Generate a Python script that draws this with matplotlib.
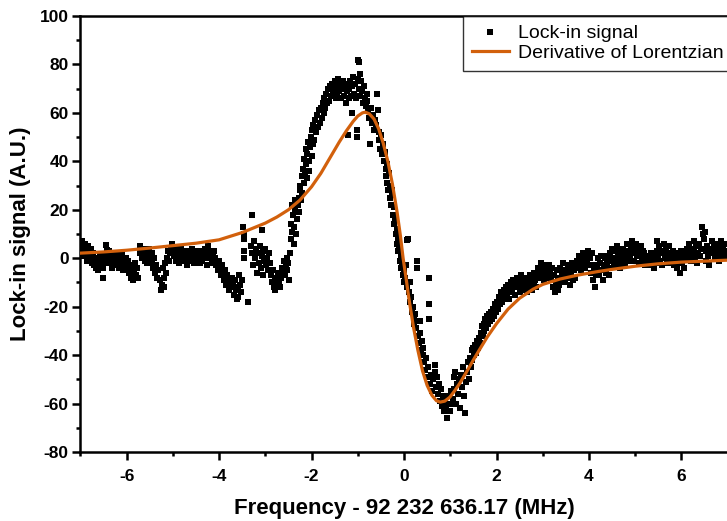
import matplotlib
matplotlib.use("Agg")
import matplotlib.pyplot as plt
from matplotlib.ticker import MultipleLocator

plt.rcParams['font.family'] = ['Liberation Sans', 'DejaVu Sans']
plt.rcParams['axes.unicode_minus'] = False

# ---- Lock-in signal ----
sig_points = [
    (-7.00,6),(-6.98,3),(-6.96,7),(-6.94,5),(-6.92,1),(-6.90,6),(-6.88,3),(-6.86,-1),(-6.84,5),(-6.82,2),(-6.80,0),(-6.78,4),
    (-6.76,1),(-6.74,-2),(-6.72,2),(-6.70,-3),(-6.68,0),(-6.66,-4),(-6.64,-1),(-6.62,-5),(-6.60,-2),(-6.58,1),(-6.56,-3),(-6.54,-1),(-6.52,-4),(-6.50,-8),
    (-6.48,-2),(-6.46,1),(-6.44,5.5),(-6.42,3.5),(-6.40,0),(-6.38,3),(-6.36,-2),(-6.34,1),(-6.32,-4),(-6.30,2),(-6.28,-1),(-6.26,0),(-6.24,-3),(-6.22,2),(-6.20,-2),(-6.18,1),(-6.16,-4),(-6.14,0),(-6.12,-2),(-6.10,2),(-6.08,-5),(-6.06,-1),(-6.04,-3),
    (-6.02,0),(-6.00,-2),(-5.98,-5),(-5.96,-1),(-5.94,-6),(-5.92,-3),(-5.90,-8),(-5.88,-4),(-5.86,-9),(-5.84,-6),(-5.82,-2),(-5.80,-7),(-5.78,-4),(-5.76,-8),
    (-5.72,2),(-5.70,5),(-5.68,3),(-5.66,0),(-5.64,4),(-5.62,1),(-5.60,-1),(-5.58,3),(-5.56,-2),(-5.54,1),(-5.52,4),(-5.50,0),(-5.48,-1),(-5.46,2),(-5.44,-2),
    (-5.42,-4),(-5.40,0),(-5.38,-6),(-5.36,-3),(-5.34,-8),(-5.32,-5),
    (-5.28,-9),(-5.26,-13),(-5.24,-11),(-5.22,-4),(-5.20,-12),(-5.18,-8),(-5.16,-2),(-5.14,-6),
    (-5.12,0),(-5.10,3),(-5.08,-1),(-5.06,2),(-5.04,4),(-5.02,6),(-5.00,3),(-4.98,1),(-4.96,4),(-4.94,-1),(-4.92,2),(-4.90,0),(-4.88,3),(-4.86,-2),(-4.84,1),(-4.82,4),(-4.80,2),(-4.78,-1),(-4.76,3),(-4.74,0),(-4.72,2),(-4.70,-3),(-4.68,1),(-4.66,3),(-4.64,-1),(-4.62,2),(-4.60,0),(-4.58,4),(-4.56,1),(-4.54,-2),(-4.52,2),(-4.50,0),(-4.48,3),(-4.46,-1),
    (-4.44,2),(-4.42,-2),(-4.40,1),(-4.38,3),(-4.36,-1),(-4.34,2),(-4.32,0),(-4.30,4),(-4.28,1),(-4.26,-3),(-4.24,5),(-4.22,2),(-4.20,0),(-4.18,3),(-4.16,-2),(-4.14,1),(-4.12,-1),(-4.10,3),(-4.08,0),(-4.06,-3),
    (-4.04,-2),(-4.02,-5),(-4.00,-1),(-3.98,-4),(-3.96,-7),(-3.94,-3),(-3.92,-6),(-3.90,-9),(-3.88,-5),(-3.86,-8),(-3.84,-11),(-3.82,-7),(-3.80,-10),(-3.78,-13),(-3.76,-9),(-3.74,-12),(-3.72,-8),
    (-3.70,-11),(-3.68,-15),(-3.66,-9),(-3.64,-13),(-3.62,-17),(-3.60,-12),(-3.58,-16),(-3.56,-7),(-3.54,-11),(-3.52,-14),(-3.50,-9),
    (-3.48,13),(-3.47,10),(-3.46,8),(-3.46,3),(-3.45,0),(-3.37,-18),(-3.28,18),
    (-3.30,5),(-3.28,2),(-3.26,-3),(-3.24,7),(-3.22,0),(-3.20,4),(-3.18,-6),(-3.16,2),(-3.14,-2),(-3.12,5),(-3.10,-4),(-3.08,1),(-3.07,11.6),(-3.06,-7),(-3.04,3),
    (-3.02,-1),(-3.00,4),(-2.98,-3),(-2.96,0),(-2.94,-5),(-2.92,2),(-2.90,-2),
    (-2.88,-7),(-2.86,-10),(-2.84,-5),(-2.82,-12),(-2.80,-8),(-2.78,-13),(-2.76,-9),(-2.74,-11),(-2.72,-6),(-2.70,-10),(-2.68,-12),
    (-2.66,-8),(-2.64,-4),(-2.62,-6),(-2.60,-1),(-2.58,-7),(-2.56,-3),(-2.54,0),(-2.52,-5),(-2.50,-2),(-2.48,-9),(-2.46,2),
    (-2.45,8),(-2.44,14),(-2.43,11),(-2.42,22),(-2.40,18),(-2.39,6),(-2.38,13),(-2.36,24),(-2.35,20),(-2.34,10),(-2.32,16),(-2.30,22),(-2.28,25),(-2.27,19),(-2.26,28),
    (-2.24,30),(-2.22,24),(-2.21,34),(-2.20,27),(-2.18,37),(-2.17,31),(-2.16,41),(-2.14,35),(-2.13,45),(-2.12,39),(-2.10,33),(-2.09,43),(-2.08,48),(-2.06,40),(-2.05,36),(-2.04,46),(-2.02,50),(-2.00,42),(-1.98,53),(-1.97,47),
    (-1.96,55),(-1.94,49),(-1.92,57),(-1.90,52),(-1.88,59),(-1.86,54),(-1.84,61),(-1.82,56),(-1.80,62),(-1.78,58),(-1.76,64),
    (-1.74,60),(-1.72,66),(-1.70,62),(-1.68,68),(-1.66,64),(-1.64,70),(-1.62,65),(-1.60,71),(-1.58,67),(-1.56,72),(-1.54,68),
    (-1.52,70),(-1.50,73),(-1.48,66),(-1.46,71),(-1.44,68),(-1.42,74),(-1.40,69),(-1.38,72),(-1.36,66),(-1.34,70),(-1.32,73),(-1.30,67),(-1.28,71),(-1.26,64),(-1.24,69),(-1.22,72),(-1.21,51),(-1.20,66),(-1.18,70),
    (-1.16,73),(-1.14,67),(-1.13,60),(-1.12,71),(-1.10,75),(-1.08,68),(-1.06,72),(-1.04,66),(-1.02,53),(-1.01,50),(-1.00,74),(-0.99,82),(-0.97,81),(-0.98,70),(-0.96,76),(-0.95,67),(-0.93,73),(-0.91,69),(-0.89,64),(-0.87,71),(-0.85,66),(-0.83,63),(-0.81,68),
    (-0.79,65),(-0.77,61),(-0.75,58),(-0.73,47),(-0.71,62),(-0.69,56),(-0.67,59),(-0.65,53),(-0.63,57),(-0.60,55),(-0.58,68),(-0.56,61),(-0.55,52),
    (-0.54,49),(-0.52,45),(-0.50,51),(-0.48,43),(-0.46,47),(-0.44,40),(-0.42,44),(-0.40,37),
    (-0.39,34),(-0.37,39),(-0.36,31),(-0.34,28),(-0.33,35),(-0.31,25),(-0.30,30),(-0.28,22),(-0.27,26),(-0.25,28),(-0.24,18),
    (-0.22,21),(-0.21,14),(-0.19,16),(-0.18,10),(-0.16,12),(-0.15,6),(-0.13,8),(-0.12,3),(-0.10,5),(-0.09,-1),(-0.07,1),(-0.06,-4),(-0.04,-2),(-0.03,-7),(-0.01,-10),
    (0.00,-5),(0.02,-8),(0.04,-3),(0.06,7.5),(0.07,-12),(0.09,8),(0.10,-14),(0.12,-10),(0.13,-18),(0.15,-16),(0.17,-22),(0.19,-20),(0.21,-25),(0.22,-27),(0.24,-23),(0.26,-29),
    (0.28,-1),(0.29,-4),
    (0.30,-32),(0.32,-35),(0.34,-31),(0.35,-26),(0.36,-38),(0.38,-34),(0.40,-40),(0.42,-37),(0.44,-43),
    (0.46,-46),(0.48,-41),(0.50,-49),(0.52,-45),(0.54,-8),(0.54,-19),(0.55,-25),(0.56,-52),(0.58,-48),(0.60,-55),(0.62,-50),
    (0.66,-44),(0.68,-47),(0.70,-53),(0.72,-49),(0.74,-56),(0.76,-52),(0.78,-59),(0.80,-54),
    (0.82,-61),(0.84,-57),(0.86,-63),(0.88,-59),(0.90,-62),(0.93,-66),(0.95,-60),(0.97,-57),(0.99,-63),(1.01,-55),(1.03,-60),(1.05,-58),
    (1.07,-49),(1.09,-54),(1.11,-47),(1.13,-60),(1.15,-52),(1.17,-56),(1.19,-50),(1.21,-62),(1.23,-48),(1.25,-53),(1.27,-45),(1.29,-57),(1.32,-64),(1.34,-51),
    (1.36,-47),(1.38,-43),(1.40,-50),(1.42,-41),(1.44,-45),(1.46,-38),(1.48,-42),(1.50,-37),(1.52,-40),(1.54,-36),(1.56,-39),(1.58,-34),(1.60,-37),(1.62,-33),
    (1.64,-35),(1.66,-31),(1.68,-28),(1.70,-32),(1.72,-27),(1.74,-30),(1.76,-25),(1.78,-29),(1.80,-24),(1.82,-27),(1.84,-23),(1.86,-26),(1.88,-22),(1.90,-25),(1.92,-21),(1.94,-24),(1.96,-19),(1.98,-22),
    (2.00,-20),(2.02,-18),(2.04,-21),(2.06,-16),(2.08,-19),(2.10,-14),(2.12,-18),(2.14,-15),(2.16,-13),(2.18,-17),(2.20,-12),(2.22,-15),(2.24,-11),(2.26,-14),(2.28,-17),(2.30,-12),(2.32,-10),(2.34,-13),(2.36,-9),(2.38,-12),(2.40,-15),(2.42,-11),
    (2.44,-8),(2.46,-12),(2.48,-9),(2.50,-14),(2.52,-10),(2.54,-7),(2.56,-12),(2.58,-9),(2.60,-13),(2.62,-8),(2.64,-11),(2.66,-14),(2.68,-9),(2.70,-12),(2.72,-7),(2.74,-10),(2.76,-13),(2.78,-8),(2.80,-11),(2.82,-6),(2.84,-9),(2.86,-12),
    (2.88,-7),(2.90,-4),(2.92,-8),(2.94,-5),(2.96,-2),(2.98,-7),(3.00,-4),(3.02,-9),(3.04,-6),(3.06,-3),(3.08,-7),(3.10,-5),(3.12,-8),(3.14,-3),(3.16,-6),(3.18,-9),(3.20,-4),
    (3.22,-12),(3.24,-7),(3.26,-14),(3.28,-10),(3.30,-5),(3.32,-13),(3.34,-8),(3.36,-11),
    (3.38,-4),(3.40,-9),(3.42,-6),(3.44,-2),(3.46,-7),(3.48,-10),(3.50,-5),(3.52,-8),(3.54,-3),(3.56,-6),(3.58,-11),(3.60,-4),(3.62,-7),(3.64,-2),(3.66,-9),(3.68,-5),(3.70,-8),(3.72,-3),
    (3.74,-1),(3.76,-4),(3.78,1),(3.80,-2),(3.82,-5),(3.84,0),(3.86,-3),(3.88,2),(3.90,-1),(3.92,-4),(3.94,1),(3.96,-2),(3.98,3),(4.00,-3),(4.02,0),(4.04,-6),(4.06,2),(4.08,-9),(4.10,-5),(4.12,-12),(4.14,-3),(4.16,-7),
    (4.18,-4),(4.20,0),(4.22,-7),(4.24,-2),(4.26,1),(4.28,-5),(4.30,-9),(4.32,-3),(4.34,0),(4.36,-6),(4.38,-2),(4.40,1),(4.42,-4),(4.44,-7),
    (4.46,2),(4.48,-1),(4.50,4),(4.52,0),(4.54,-3),(4.56,3),(4.58,-1),(4.60,5),(4.62,1),(4.64,-2),(4.66,3),(4.68,-4),(4.70,1),(4.72,-1),(4.74,4),(4.76,0),(4.78,-3),(4.80,2),(4.82,6),(4.84,-1),(4.86,3),
    (4.88,0),(4.90,4),(4.92,7),(4.94,2),(4.96,5),(4.98,-1),(5.00,3),(5.02,6),(5.04,1),(5.06,4),(5.08,-2),(5.10,2),(5.12,5),(5.14,0),(5.16,3),(5.18,-1),(5.20,2),(5.22,-3),(5.24,1),
    (5.26,-2),(5.28,1),(5.30,-3),(5.32,0),(5.34,2),(5.36,-2),(5.38,1),(5.40,-4),(5.42,0),(5.44,-2),
    (5.46,3),(5.48,7),(5.50,1),(5.52,5),(5.54,-1),(5.56,3),(5.58,-3),(5.60,2),(5.62,6),(5.64,0),(5.66,4),(5.68,-2),(5.70,2),(5.72,5),(5.74,0),
    (5.76,-2),(5.78,2),(5.80,-1),(5.82,3),(5.84,-3),(5.86,0),(5.88,2),(5.90,-4),(5.92,1),(5.94,-2),(5.96,-6),(5.98,0),(6.00,3),(6.02,-2),(6.04,1),(6.06,-4),(6.08,2),
    (6.10,0),(6.12,4),(6.14,1),(6.16,6),(6.18,2),(6.20,-1),(6.22,4),(6.24,1),(6.26,7),(6.28,3),(6.30,0),(6.32,5),(6.34,-2),(6.36,2),(6.38,6),(6.40,1),(6.42,4),
    (6.44,13),(6.46,10),(6.48,8),(6.50,11),(6.52,3),(6.54,-1),(6.56,5),(6.58,1),(6.60,-3),(6.62,2),(6.64,4),
    (6.66,7),(6.68,2),(6.70,5),(6.72,0),(6.74,3),(6.76,6),(6.78,1),(6.80,4),(6.82,-1),(6.84,3),(6.86,7),(6.88,2),(6.90,5),(6.92,0),(6.94,3),(6.96,6),(6.98,2),
]
signal_x = [p[0] for p in sig_points]
signal_y = [p[1] for p in sig_points]

# ---- Derivative-of-Lorentzian fit curve ----
fit_x = [-7.0,-6.5,-6.0,-5.5,-5.0,-4.5,-4.0,-3.5,-3.0,-2.75,-2.5,-2.25,-2.0,-1.8,-1.6,-1.4,-1.25,-1.1,-1.0,-0.9,-0.84,
         -0.75,-0.65,-0.55,-0.45,-0.35,-0.25,-0.15,-0.08,-0.02,0.05,0.1,0.2,0.3,0.4,0.5,0.6,0.7,0.78,0.88,0.99,1.1,1.21,
         1.35,1.5,1.64,1.8,2.0,2.25,2.5,2.79,3.0,3.37,3.75,4.16,4.5,5.0,5.5,6.0,6.5,7.0]
fit_y = [2.1,2.6,3.3,4.2,5.2,6.2,7.6,10.6,14.5,17,20,24,29.5,35,41.5,48,52.5,56.5,58.7,60,60.3,
         59.6,57.5,53.5,47.5,40,30.5,19,9.5,0,-9,-16,-28,-38,-46.5,-52.5,-56.5,-58.8,-59.4,-59,-57.4,-54.6,-51.5,
         -47,-42,-37.5,-32.5,-27,-21,-16.5,-12.8,-10.8,-8.6,-7,-5.6,-4.6,-3.3,-2.3,-1.6,-1.2,-0.8]

x_ticks = [-6, -4, -2, 0, 2, 4, 6]
y_ticks = [-80, -60, -40, -20, 0, 20, 40, 60, 80, 100]

fig = plt.figure(figsize=(7.27, 5.21), dpi=100)
ax = fig.add_axes([0.1105, 0.1324, 0.8905, 0.8369])

ax.plot(signal_x, signal_y, linestyle='none', marker='s', markersize=4.6,
        color='black', markeredgewidth=0, label='Lock-in signal', zorder=2)
ax.plot(fit_x, fit_y, color='#D2600C', linewidth=2.3, label='Derivative of Lorentzian', zorder=3)

ax.set_xlim(-7, 7)
ax.set_ylim(-80, 100)
ax.set_xticks(x_ticks)
ax.set_yticks(y_ticks)
ax.xaxis.set_minor_locator(MultipleLocator(1))
ax.yaxis.set_minor_locator(MultipleLocator(10))

for s in ax.spines.values():
    s.set_linewidth(1.8)
ax.tick_params(which='major', direction='out', length=6, width=1.8, labelsize=12.5, pad=2.4)
ax.tick_params(which='minor', direction='out', length=3, width=1.8)
ax.tick_params(axis='x', which='major', pad=6.5)
for lab in ax.get_xticklabels() + ax.get_yticklabels():
    lab.set_fontweight('bold')

ax.set_xlabel('Frequency - 92 232 636.17 (MHz)', fontsize=16, fontweight='bold', labelpad=10)
ax.set_ylabel('Lock-in signal (A.U.)', fontsize=16, fontweight='bold', labelpad=6)

leg = ax.legend(loc='upper left', bbox_to_anchor=(0.591, 1.0), borderaxespad=0,
                fontsize=14, frameon=True, fancybox=False, handlelength=1.9,
                handletextpad=0.5, borderpad=0.45, labelspacing=0.1, markerscale=0.9)
leg.get_frame().set_edgecolor('black')
leg.get_frame().set_linewidth(1.0)

fig.savefig('out.png', dpi=100)
